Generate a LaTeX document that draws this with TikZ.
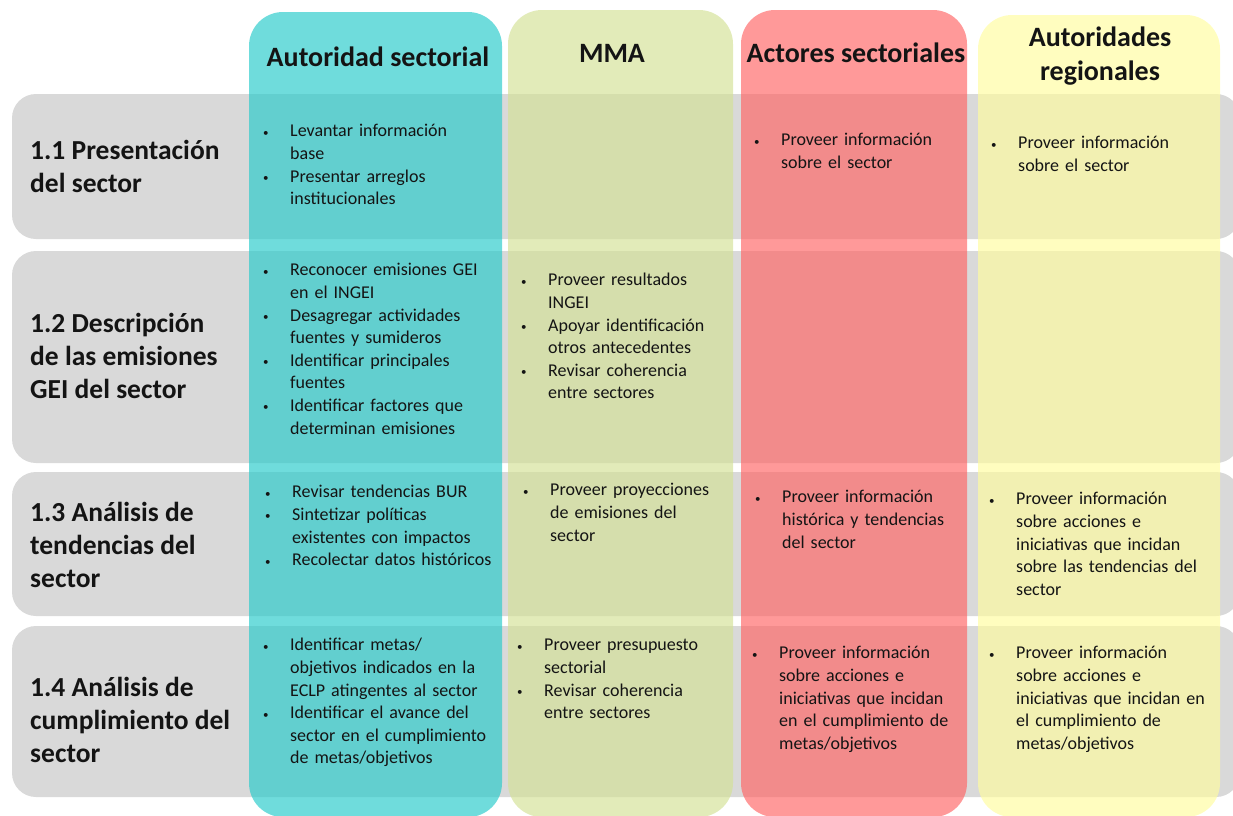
\documentclass[tikz,border=0pt]{standalone}
\usepackage{fontspec}
\setmainfont{Carlito}
\definecolor{rowgray}{HTML}{D9D9D9}
\definecolor{cyanc}{RGB}{37,202,202}
\definecolor{greenc}{RGB}{211,225,149}
\definecolor{redc}{RGB}{255,100,100}
\definecolor{yellowc}{RGB}{255,252,158}
\definecolor{txt}{HTML}{141414}
\newcommand\bi[1]{\par\noindent\hangindent=28pt\hangafter=1\makebox[28pt][l]{\hspace{1pt}\raisebox{0.5pt}{\fontsize{11}{11}\selectfont\textbullet}}{\let\\\newline #1}\par}
\begin{document}
\begin{tikzpicture}[x=1pt,y=-1pt,
  rowbox/.style={fill=rowgray, rounded corners=24pt},
  colbox/.style={rounded corners=34pt, fill opacity=0.66},
  hdr/.style={font=\fontsize{28}{34}\selectfont\bfseries, align=center, inner sep=0, text=txt},
  lbl/.style={font=\fontsize{27.5}{33}\selectfont\bfseries, anchor=north west, align=left, inner sep=0, text=txt},
  cell/.style={font=\fontsize{18}{22.6}\selectfont\raggedright, anchor=north west, inner sep=0, text width=270pt, text=txt}]
\useasboundingbox (0,0) rectangle (1233,815);
% rows
\fill[rowbox] (12,94) rectangle (1240,239);
\fill[rowbox] (12,251) rectangle (1240,463);
\fill[rowbox] (12,472) rectangle (1240,616);
\fill[rowbox] (12,626) rectangle (1240,797);
% columns
\fill[colbox, fill=cyanc] (249,12) rectangle (502,817);
\fill[colbox, fill=greenc] (508,10) rectangle (733,817);
\fill[colbox, fill=redc] (741,10) rectangle (967,817);
\fill[colbox, fill=yellowc] (978,15) rectangle (1220,817);
% headers
\node[hdr] (h1) at (378,57) {Autoridad sectorial};
\node[hdr] (h2) at (612,53) {MMA};
\node[hdr] (h3) at (856,53) {Actores sectoriales};
\node[hdr] (h4) at (1100,56) {Autoridades\\regionales};
% row labels
\node[lbl] (l1) at (30,140) {1.1 Presentación\\del sector};
\node[lbl] (l2) at (30,313) {1.2 Descripción\\de las emisiones\\GEI del sector};
\node[lbl] (l3) at (30,502) {1.3 Análisis de\\tendencias del\\sector};
\node[lbl] (l4) at (30,677) {1.4 Análisis de\\cumplimiento del\\sector};
% cells row 1
\node[cell] (c11) at (262,114) {\bi{Levantar información\\base}\bi{Presentar arreglos\\institucionales}};
\node[cell] (c13) at (753,123) {\bi{Proveer información\\sobre el sector}};
\node[cell] (c14) at (990,126) {\bi{Proveer información\\sobre el sector}};
% row 2
\node[cell] (c21) at (262,253) {\bi{Reconocer emisiones GEI\\en el INGEI}\bi{Desagregar actividades\\fuentes y sumideros}\bi{Identificar principales\\fuentes}\bi{Identificar factores que\\determinan emisiones}};
\node[cell] (c22) at (520,263) {\bi{Proveer resultados\\INGEI}\bi{Apoyar identificación\\otros antecedentes}\bi{Revisar coherencia\\entre sectores}};
% row 3
\node[cell] (c31) at (264,475) {\bi{Revisar tendencias BUR}\bi{Sintetizar políticas\\existentes con impactos}\bi{Recolectar datos históricos}};
\node[cell] (c32) at (522,473) {\bi{Proveer proyecciones\\de emisiones del\\sector}};
\node[cell] (c33) at (754,480) {\bi{Proveer información\\histórica y tendencias\\del sector}};
\node[cell] (c34) at (988,482) {\bi{Proveer información\\sobre acciones e\\iniciativas que incidan\\sobre las tendencias del\\sector}};
% row 4
\node[cell] (c41) at (262,628) {\bi{Identificar metas/\\objetivos indicados en la\\ECLP atingentes al sector}\bi{Identificar el avance del\\sector en el cumplimiento\\de metas/objetivos}};
\node[cell] (c42) at (516,628) {\bi{Proveer presupuesto\\sectorial}\bi{Revisar coherencia\\entre sectores}};
\node[cell] (c43) at (751,636) {\bi{Proveer información\\sobre acciones e\\iniciativas que incidan\\en el cumplimiento de\\metas/objetivos}};
\node[cell] (c44) at (988,636) {\bi{Proveer información\\sobre acciones e\\iniciativas que incidan en\\el cumplimiento de\\metas/objetivos}};
\end{tikzpicture}
\end{document}
